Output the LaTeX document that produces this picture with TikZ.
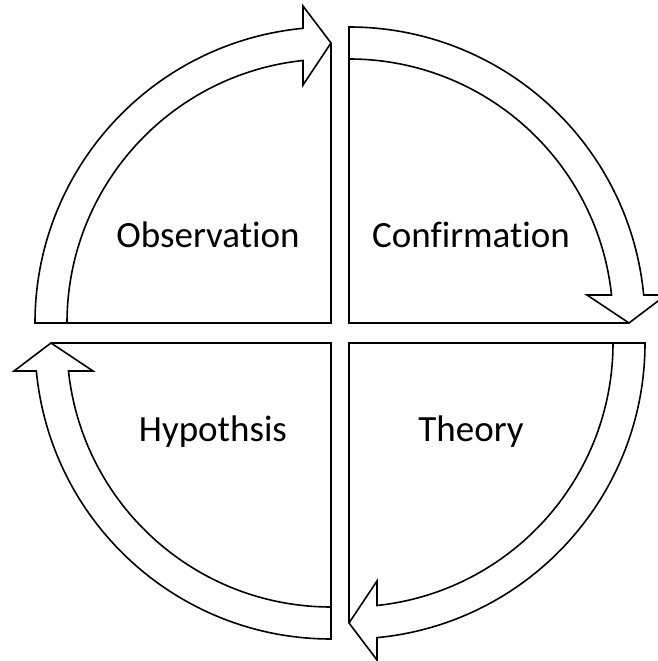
\documentclass[tikz,border=0pt]{standalone}
\usepackage{fontspec}
\setmainfont{Carlito}[RawFeature=-liga]
\usetikzlibrary{positioning}

\begin{document}
\begin{tikzpicture}[
  x=1pt,y=1pt,
  quarter/.style={draw,line width=1.6pt,line join=miter},
  quadtext/.style={font=\fontsize{37}{44}\selectfont,anchor=base,inner sep=0pt}
]
\useasboundingbox (0,0) rectangle (657,661);
% one quarter with its arrow band, turned about its corner
\foreach \cx/\cy/\turn in {331/338/0, 349/338/-90, 349/318/-180, 331/318/90}{
  \begin{scope}[shift={(\cx,\cy)},rotate=\turn]
    \draw[quarter] (0,0) -- (-296,0) arc[start angle=180,end angle=95.43,radius=296pt]
      -- (-28,317) -- (0,280) -- cycle;
    \draw[quarter] (0,280) -- (-28,238) -- (-28,262.51)
      arc[start angle=96.09,end angle=180,radius=264pt];
  \end{scope}
}
\node[quadtext] (obs) at (208,413) {Observation};
\node[quadtext] (conf) at (471,413) {Confirmation};
\node[quadtext] (hyp) at (213,219) {Hypothsis};
\node[quadtext] (theo) at (471,219) {Theory};
\end{tikzpicture}
\end{document}
